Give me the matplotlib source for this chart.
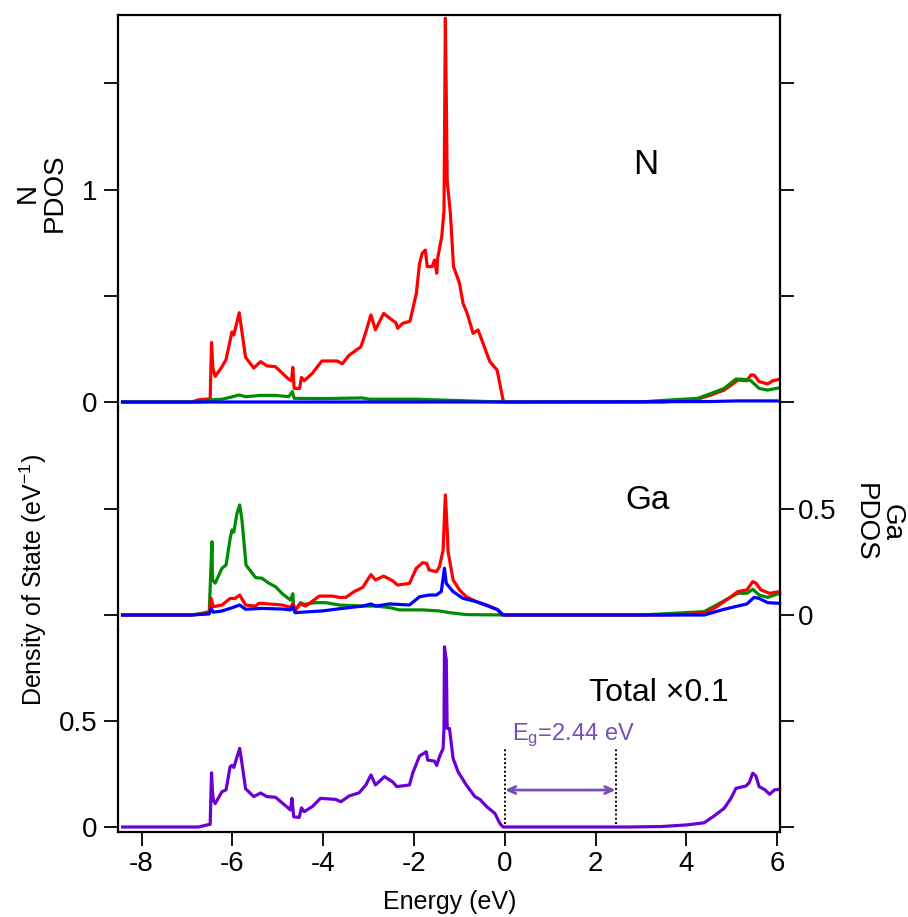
import matplotlib
matplotlib.use('Agg')
import matplotlib.pyplot as plt
import numpy as np

plt.rcParams['font.family'] = 'Liberation Sans'
plt.rcParams['mathtext.fontset'] = 'custom'
plt.rcParams['mathtext.rm'] = 'Liberation Sans'
plt.rcParams['mathtext.it'] = 'Liberation Sans:italic'
plt.rcParams['axes.unicode_minus'] = False

RED = '#ff0000'
GREEN = '#008c00'
BLUE = '#0000ff'
PURPLE = '#6a00d4'
GAP = '#7a4fb5'

# ---------------- N projected DOS ----------------
n_red_E = [-8.42, -6.9, -6.75, -6.49, -6.46, -6.43, -6.38, -6.23, -6.14, -6.05, -6.01, -5.97,
           -5.85, -5.71, -5.53, -5.38, -5.24, -5.05, -4.76, -4.70, -4.67, -4.64, -4.52, -4.48,
           -4.42, -4.24, -4.03, -3.69, -3.58, -3.43, -3.17, -3.06, -2.95, -2.85, -2.67, -2.51,
           -2.40, -2.36, -2.25, -2.09, -1.95, -1.88, -1.82, -1.75, -1.71, -1.60, -1.55, -1.50,
           -1.48, -1.39, -1.34, -1.31, -1.29, -1.27, -1.20, -1.13, -1.00, -0.92, -0.83, -0.70,
           -0.59, -0.48, -0.33, -0.17, -0.04, 0.0, 3.5, 4.24, 4.54, 4.83, 5.02, 5.13, 5.33,
           5.42, 5.49, 5.60, 5.79, 5.90, 6.05]
n_red = [0, 0, 0.01, 0.015, 0.28, 0.16, 0.12, 0.166, 0.2, 0.29, 0.33, 0.315,
         0.42, 0.21, 0.16, 0.19, 0.17, 0.166, 0.107, 0.10, 0.163, 0.064, 0.064, 0.116,
         0.10, 0.135, 0.193, 0.193, 0.18, 0.22, 0.26, 0.33, 0.41, 0.34, 0.417, 0.39,
         0.373, 0.347, 0.37, 0.38, 0.51, 0.65, 0.70, 0.715, 0.637, 0.637, 0.668, 0.606,
         0.676, 0.778, 0.90, 1.806, 1.44, 1.04, 0.89, 0.637, 0.56, 0.464, 0.417, 0.323,
         0.339, 0.276, 0.19, 0.15, 0.01, 0, 0, 0.013, 0.033, 0.056, 0.085, 0.103, 0.10,
         0.127, 0.127, 0.096, 0.085, 0.10, 0.107]

n_green_E = [-8.42, -6.7, -6.5, -6.23, -6.05, -5.85, -5.71, -5.38, -5.05, -4.76, -4.68, -4.64,
             -4.03, -3.14, -2.98, -1.95, -1.2, -0.5, 0, 3.0, 3.3, 4.24, 4.54, 4.83, 5.09,
             5.33, 5.42, 5.60, 5.79, 6.05]
n_green = [0, 0, 0.01, 0.013, 0.022, 0.033, 0.025, 0.031, 0.031, 0.025, 0.049, 0.017,
           0.016, 0.019, 0.013, 0.013, 0.008, 0.003, 0, 0, 0.005, 0.017, 0.04, 0.064, 0.108,
           0.106, 0.10, 0.064, 0.056, 0.067]

n_blue_E = [-8.42, 0.0, 4.5, 5.1, 6.05]
n_blue = [0, 0, 0.002, 0.005, 0.005]

# ---------------- Ga projected DOS ----------------
ga_green_E = [-8.42, -6.9, -6.67, -6.51, -6.47, -6.45, -6.44, -6.38, -6.23, -6.14, -6.05, -6.01,
              -5.97, -5.90, -5.84, -5.79, -5.70, -5.49, -5.35, -5.20, -5.05, -4.90, -4.72,
              -4.67, -4.65, -4.60, -4.50, -4.42, -4.17, -3.94, -3.65, -3.13, -2.84, -2.54,
              -2.32, -1.81, -1.44, -1.22, -0.85, 0, 3.0, 3.72, 4.39, 4.83, 5.13, 5.33, 5.46,
              5.60, 5.79, 6.05]
ga_green = [0, 0, 0.008, 0.016, 0.24, 0.345, 0.165, 0.15, 0.22, 0.235, 0.36, 0.40,
            0.39, 0.478, 0.518, 0.447, 0.235, 0.176, 0.173, 0.15, 0.133, 0.10, 0.07,
            0.10, 0.031, 0.027, 0.058, 0.05, 0.058, 0.058, 0.047, 0.042, 0.042, 0.035,
            0.024, 0.024, 0.019, 0.011, 0.002, 0, 0, 0.008, 0.016, 0.067, 0.102, 0.102, 0.121,
            0.094, 0.083, 0.102]

ga_red_E = [-8.42, -6.9, -6.51, -6.47, -6.42, -6.23, -6.05, -5.94, -5.84, -5.71, -5.49, -5.42,
            -5.20, -4.90, -4.72, -4.67, -4.61, -4.50, -4.39, -4.28, -4.09, -3.80, -3.65, -3.50,
            -3.32, -3.13, -2.95, -2.85, -2.67, -2.47, -2.36, -2.10, -1.95, -1.81, -1.72, -1.67,
            -1.51, -1.44, -1.36, -1.31, -1.27, -1.25, -1.14, -1.00, -0.85, -0.63, -0.40, -0.18,
            -0.07, 0, 3.5, 4.0, 4.39, 4.61, 4.83, 4.98, 5.13, 5.33, 5.46, 5.53, 5.64, 5.83, 6.05]
ga_red = [0, 0, 0.008, 0.078, 0.039, 0.047, 0.078, 0.078, 0.094, 0.047, 0.042, 0.055,
          0.052, 0.047, 0.036, 0.055, 0.024, 0.052, 0.042, 0.058, 0.089, 0.089, 0.083, 0.083,
          0.11, 0.13, 0.19, 0.165, 0.183, 0.161, 0.141, 0.149, 0.22, 0.246, 0.243, 0.212,
          0.204, 0.227, 0.306, 0.565, 0.40, 0.298, 0.165, 0.118, 0.086, 0.063, 0.047, 0.027,
          0.005, 0, 0, 0.003, 0.008, 0.031, 0.063, 0.086, 0.11, 0.118, 0.157, 0.15, 0.118, 0.102, 0.11]

ga_blue_E = [-8.42, -6.9, -6.51, -6.47, -6.42, -6.23, -6.05, -5.84, -5.71, -5.35, -4.90, -4.72,
             -4.67, -4.62, -4.48, -4.03, -3.58, -3.13, -2.95, -2.84, -2.54, -2.10, -1.88, -1.66,
             -1.51, -1.40, -1.33, -1.29, -1.14, -0.92, -0.63, -0.33, -0.15, -0.04, 0, 4.39,
             4.83, 5.13, 5.33, 5.49, 5.60, 5.79, 6.05]
ga_blue = [0, 0, 0.005, 0.031, 0.013, 0.019, 0.031, 0.047, 0.027, 0.031, 0.028, 0.024,
           0.039, 0.011, 0.013, 0.019, 0.031, 0.042, 0.052, 0.042, 0.052, 0.047, 0.086, 0.094,
           0.094, 0.11, 0.22, 0.149, 0.11, 0.078, 0.063, 0.039, 0.024, 0, 0, 0,
           0.027, 0.042, 0.052, 0.083, 0.078, 0.058, 0.055]

# ---------------- total DOS (scaled by 0.1) ----------------
tot_E = [-8.42, -6.9, -6.75, -6.49, -6.46, -6.44, -6.42, -6.38, -6.23, -6.14, -6.05, -6.01,
         -5.97, -5.84, -5.79, -5.71, -5.53, -5.38, -5.24, -5.05, -4.72, -4.69, -4.65, -4.53,
         -4.48, -4.42, -4.24, -4.06, -3.73, -3.61, -3.43, -3.21, -3.06, -2.95, -2.85, -2.65,
         -2.47, -2.38, -2.10, -2.03, -1.88, -1.73, -1.70, -1.55, -1.50, -1.44, -1.36, -1.34,
         -1.33, -1.29, -1.27, -1.22, -1.14, -1.03, -0.85, -0.66, -0.55, -0.40, -0.22, -0.11,
         -0.04, 2.7, 3.43, 4.02, 4.39, 4.61, 4.83, 4.98, 5.09, 5.31, 5.38, 5.46, 5.53, 5.60,
         5.73, 5.83, 5.94, 6.05]
tot = [0, 0, 0.0, 0.013, 0.255, 0.17, 0.127, 0.11, 0.166, 0.175, 0.284, 0.29,
       0.28, 0.37, 0.30, 0.18, 0.143, 0.16, 0.143, 0.14, 0.08, 0.135, 0.048, 0.045,
       0.09, 0.072, 0.096, 0.135, 0.13, 0.119, 0.146, 0.161, 0.198, 0.245, 0.198, 0.237,
       0.212, 0.19, 0.198, 0.253, 0.334, 0.354, 0.315, 0.31, 0.29, 0.33, 0.37, 0.464,
       0.848, 0.786, 0.464, 0.464, 0.323, 0.26, 0.198, 0.143, 0.13, 0.096, 0.064, 0.017,
       0.0, 0.0, 0.002, 0.01, 0.02, 0.052, 0.088, 0.135, 0.182, 0.193, 0.208, 0.253, 0.24, 0.19,
       0.175, 0.154, 0.175, 0.177]

band_gap = 2.44

# ---------------- layout ----------------
W, H = 908, 917
fig = plt.figure(figsize=(W / 100, H / 100), dpi=100)
scale = 212.5  # pixels per DOS unit
x0, x1 = 118, 780


def panel(base_px, top_px, bot_px):
    lo = (base_px - bot_px) / scale
    hi = (base_px - top_px) / scale
    ax = fig.add_axes([x0 / W, 1 - bot_px / H, (x1 - x0) / W, (bot_px - top_px) / H])
    ax.set_ylim(lo, hi)
    ax.set_xlim(-8.52, 6.06)
    ax.patch.set_alpha(0)
    for s in ax.spines.values():
        s.set_linewidth(1.6)
    ax.tick_params(direction='out', length=10, width=1.3, labelsize=20, pad=5)
    return ax


ax_n = panel(402, 15, 410)
ax_ga = panel(615, 410, 630)
ax_tot = panel(827, 630, 832)

lw = 2.3
ax_n.plot(n_red_E, n_red, color=RED, lw=lw)
ax_n.plot(n_green_E, n_green, color=GREEN, lw=lw)
ax_n.plot(n_blue_E, n_blue, color=BLUE, lw=lw)

ax_ga.plot(ga_green_E, ga_green, color=GREEN, lw=lw, clip_on=False)
ax_ga.plot(ga_red_E, ga_red, color=RED, lw=lw, clip_on=False)
ax_ga.plot(ga_blue_E, ga_blue, color=BLUE, lw=lw, clip_on=False)

ax_tot.plot(tot_E, tot, color=PURPLE, lw=lw, clip_on=False)

# spines
ax_n.spines['bottom'].set_visible(False)
ax_ga.spines['top'].set_visible(False)
ax_ga.spines['bottom'].set_visible(False)
ax_tot.spines['top'].set_visible(False)

for ax in (ax_n, ax_ga):
    ax.tick_params(axis='x', bottom=False, labelbottom=False)

# N panel: ticks both sides, labels on left at 0 and 1
ax_n.set_yticks([0, 0.5, 1, 1.5])
ax_n.set_yticklabels(['0', '', '1', ''])
ax_n.tick_params(axis='y', right=True, labelright=False)

# Ga panel: labels on right
ax_ga.set_yticks([0, 0.5])
ax_ga.set_yticklabels(['0', '0.5'])
ax_ga.tick_params(axis='y', left=True, labelleft=False, right=True, labelright=True, pad=3)

# total panel
ax_tot.set_yticks([0, 0.5])
ax_tot.set_yticklabels(['0', '0.5'])
ax_tot.tick_params(axis='y', right=True, labelright=False)
ax_tot.set_xticks([-8, -6, -4, -2, 0, 2, 4, 6])
ax_tot.tick_params(axis='x', pad=4)

# panel captions
ax_n.text(3.1, 1.12, 'N', fontsize=25, ha='center', va='center')
ax_ga.text(3.15, 0.54, 'Ga', fontsize=24, ha='center', va='center')
ax_tot.text(3.4, 0.63, 'Total \u00d70.1', fontsize=23, ha='center', va='center')

# band gap marker
for xv in (0, band_gap):
    ax_tot.plot([xv, xv], [0.014, 0.372], color='black', lw=1.4, ls=(0, (1, 1.2)))
ax_tot.annotate('', xy=(band_gap, 0.174), xytext=(0, 0.174),
                arrowprops=dict(arrowstyle='<->,head_length=0.55,head_width=0.25',
                                color=GAP, lw=2, shrinkA=0, shrinkB=0))
ax_tot.text(0.15, 0.41, 'E$_\\mathrm{g}$=' + f'{band_gap:.2f} eV', color=GAP, fontsize=17,
            ha='left', va='baseline')

# axis titles
fig.text(41 / W, 1 - 193 / H, 'N\nPDOS', rotation=90, ha='center', va='center',
         fontsize=20, linespacing=1.05)
fig.text(878 / W, 1 - 522 / H, 'Ga\nPDOS', rotation=270, ha='center', va='center',
         fontsize=20, linespacing=1.05)
fig.text(33 / W, 1 - 580 / H, 'Density of State (eV$^{-1}$)', rotation=90,
         ha='center', va='center', fontsize=18)
fig.text(450 / W, 1 - 902 / H, 'Energy (eV)', ha='center', va='center', fontsize=18)

fig.savefig('out.png', dpi=100)
